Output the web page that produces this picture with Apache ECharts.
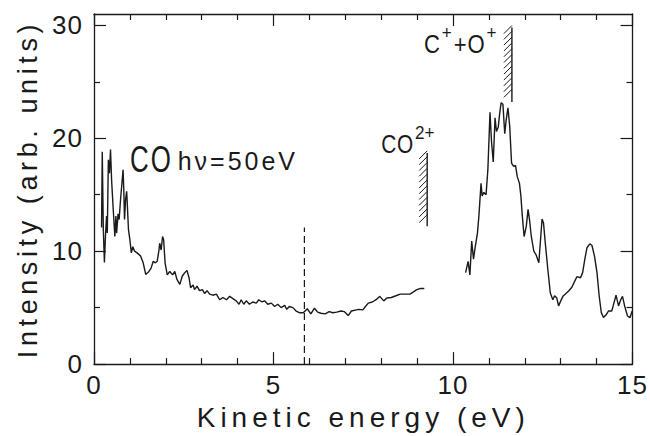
<!DOCTYPE html>
<html><head><meta charset="utf-8">
<script src="https://cdn.jsdelivr.net/npm/echarts@6/dist/echarts.min.js"></script>
<style>
html,body{margin:0;padding:0;background:#fff}
#c{width:650px;height:436px}
/* the plotter-style lettering of the original is widely spaced */
#c text[style*="28px"]{letter-spacing:5px}
#c text[style*="27px"]{letter-spacing:4.6px}
#c text[style*="25px"]{letter-spacing:3px}
#c text[style*="37px"]{letter-spacing:3px}
#c text[style*="26px"]{letter-spacing:1px}
</style>
</head><body><div id="c"></div><script>
// ---- data ----
const lowEnergy = [0.21,0.23,0.26,0.29,0.32,0.35,0.37,0.40,0.43,0.46,0.49,0.53,0.56,0.58,0.61,0.63,0.67,0.70,0.74,0.78,0.81,0.83,0.85,0.88,0.91,0.93,0.96,1.00,1.04,1.08,1.13,1.20,1.30,1.37,1.44,1.53,1.59,1.65,1.71,1.76,1.81,1.83,1.87,1.91,1.94,1.98,2.04,2.11,2.19,2.25,2.31,2.39,2.46,2.53,2.59,2.65,2.69,2.76,2.80,2.87,2.94,3.02,3.08,3.15,3.22,3.31,3.41,3.50,3.59,3.69,3.78,3.87,3.96,4.04,4.10,4.17,4.24,4.33,4.42,4.52,4.59,4.68,4.75,4.84,4.94,5.03,5.12,5.21,5.31,5.37,5.44,5.54,5.63,5.72,5.83,5.94,6.04,6.14,6.23,6.32,6.44,6.55,6.65,6.76,6.88,6.97,7.08,7.17,7.31,7.38,7.49,7.56,7.64,7.75,7.86,7.96,8.07,8.16,8.28,8.41,8.53,8.66,8.80,8.90,8.99,9.10,9.20];
const lowIntensity = [12.1,18.8,11.9,9.0,11.4,13.1,11.6,18.1,16.9,19.0,16.3,14.0,12.4,11.3,13.1,11.6,13.3,12.8,14.6,16.1,17.2,15.4,12.8,14.6,15.3,14.0,11.9,11.0,9.85,10.4,10.0,9.85,9.56,8.97,7.94,8.2,8.5,9.1,8.97,9.1,10.1,10.7,10.1,11.3,11.0,8.97,7.9,8.2,7.9,8.2,7.5,7.06,7.8,8.1,8.3,7.6,6.76,7.0,6.6,6.9,6.5,6.6,6.26,6.5,6.2,6.1,6.2,5.7,5.9,5.7,6.0,5.8,5.6,5.3,5.7,5.3,5.6,5.3,5.5,5.4,5.7,5.5,5.6,5.3,5.4,5.1,5.3,5.0,5.2,4.85,5.1,5.0,4.7,4.55,4.55,4.9,4.45,4.95,4.6,4.5,4.45,4.65,4.55,4.6,4.7,4.65,4.3,4.7,4.8,4.85,4.8,5.1,5.4,5.5,5.7,6.0,5.6,5.85,5.9,6.05,6.2,6.2,6.2,6.4,6.6,6.7,6.7];
const highEnergy = [10.35,10.42,10.47,10.52,10.57,10.61,10.68,10.72,10.78,10.81,10.86,10.92,10.97,11.03,11.07,11.12,11.17,11.21,11.26,11.30,11.34,11.39,11.44,11.48,11.53,11.58,11.63,11.69,11.74,11.79,11.85,11.89,11.93,11.98,12.04,12.09,12.13,12.18,12.25,12.31,12.39,12.43,12.48,12.52,12.57,12.64,12.71,12.78,12.83,12.89,12.94,13.00,13.06,13.13,13.22,13.31,13.39,13.45,13.55,13.61,13.67,13.73,13.81,13.87,13.94,14.01,14.07,14.13,14.19,14.27,14.33,14.42,14.46,14.54,14.61,14.67,14.72,14.78,14.86,14.93,14.99];
const highIntensity = [8.1,9.1,7.9,10.9,9.3,10.2,11.6,13.1,16.0,14.9,15.2,15.0,17.2,22.3,19.8,17.9,21.8,20.6,21.0,22.2,23.15,23.0,20.4,21.6,22.7,21.0,17.8,17.5,17.6,16.6,16.0,14.9,13.1,11.3,12.2,13.7,12.8,11.3,10.0,9.7,8.97,10.7,12.85,12.5,10.7,8.4,6.3,5.7,6.05,5.85,5.15,5.6,6.0,6.2,6.47,6.8,7.35,7.74,7.65,8.1,9.27,10.3,10.65,10.5,9.56,8.1,6.05,4.56,4.12,4.4,4.7,4.7,5.15,6.1,5.15,5.7,6.0,5.15,4.26,4.12,4.7];
const yMajorTicks = [0, 10, 20, 30];
const yMinorTicks = [5, 15, 25];
const thresholdEnergy = [9.28, 11.64];
const thresholdTop = [18.7, 29.8];
const thresholdBottom = [12.2, 23.2];
const dashedEnergy = 5.86;
const dashedTop = 12.1;
// annotations: text parts (even = normal, odd = superscript) and anchor [energy, intensity]
const annoTexts = [['CO'], ['hν=50eV'], ['CO', '2+'], ['C', '+', '+O', '+']];
const annoEnergy = [1.0, 2.33, 8.0, 9.19];
const annoIntensity = [18.1, 18.0, 19.5, 28.4];

const pairs = (xs, ys) => xs.map((x, i) => [x, ys[i]]);
const INK = '#1a1a1a';
const FONT = "'Liberation Sans',Arial,sans-serif";
// per annotation: main size, superscript size, horizontal squeeze, css letter spacing of main size
const annoStyle = [
  {size: 37, sup: 19, sx: 0.70, ls: 3},
  {size: 25, sup: 19, sx: 1.0, ls: 3},
  {size: 26, sup: 19, sx: 0.80, ls: 1},
  {size: 26, sup: 19, sx: 0.85, ls: 1}
];
const measureCtx = document.createElement('canvas').getContext('2d');
function textWidth(t, size, ls) {
  measureCtx.font = size + 'px ' + FONT;
  return measureCtx.measureText(t).width + ls * t.length;
}

const chart = echarts.init(document.getElementById('c'), null, {renderer: 'svg'});

function axisX(pos, labels) {
  return {
    type: 'value', min: 0, max: 15, interval: 5, position: pos,
    axisLine: {show: true, onZero: false, lineStyle: {color: INK, width: 1.3}},
    axisTick: {show: true, inside: true, length: 12, lineStyle: {color: INK, width: 1.2}},
    minorTick: {show: true, splitNumber: 5, length: 6, lineStyle: {color: INK, width: 1.2}},
    splitLine: {show: false}, minorSplitLine: {show: false},
    axisLabel: {show: labels, fontSize: 26, color: INK, fontFamily: FONT, margin: 8},
    name: labels ? 'Kinetic energy (eV)' : '',
    nameLocation: 'middle', nameGap: 38,
    nameTextStyle: {fontSize: 28, color: INK, fontFamily: FONT}
  };
}
function axisY(pos, major, labels) {
  return {
    type: 'value', min: 0, max: 31, position: pos,
    axisLine: {show: major, onZero: false, lineStyle: {color: INK, width: 1.3}},
    axisTick: {show: true, inside: true, length: major ? 12 : 6, customValues: major ? yMajorTicks : yMinorTicks, lineStyle: {color: INK, width: 1.2}},
    splitLine: {show: false},
    axisLabel: {show: labels, customValues: yMajorTicks, fontSize: 26, color: INK, fontFamily: FONT, margin: 11},
    name: labels ? 'Intensity (arb. units)' : '',
    nameLocation: 'middle', nameGap: 53, nameRotate: 90,
    nameTextStyle: {fontSize: 27, color: INK, fontFamily: FONT}
  };
}

function textItem(params, api) {
  const idx = params.dataIndex;
  const st = annoStyle[idx];
  const parts = annoTexts[idx];
  const p = api.coord([api.value(0), api.value(1)]);
  const children = [];
  let x = p[0];
  parts.forEach((t, i) => {
    const sup = i % 2 === 1;
    const size = sup ? st.sup : st.size;
    const ls = sup ? 0 : st.ls;
    const sx = sup ? 0.9 : st.sx;
    children.push({type: 'text', x: x, y: sup ? p[1] - 11 : p[1], scaleX: sx,
      style: {text: t, fontSize: size, fontFamily: FONT, fill: INK, align: 'left', verticalAlign: 'middle'}});
    x += textWidth(t, size, ls) * sx + (sup ? 2 : 1);
  });
  return {type: 'group', children};
}

function hatchItem(params, api) {
  const top = api.coord([api.value(0), api.value(1)]);
  const bot = api.coord([api.value(0), api.value(2)]);
  const children = [{type: 'line', shape: {x1: top[0], y1: top[1], x2: bot[0], y2: bot[1]}, style: {stroke: INK, lineWidth: 1.4}}];
  for (let y = top[1] + 6; y <= bot[1] + 0.5; y += 5.8) {
    children.push({type: 'line', shape: {x1: top[0] - 8, y1: y, x2: top[0], y2: y - 8}, style: {stroke: INK, lineWidth: 1.0}});
  }
  return {type: 'group', children};
}

chart.setOption({
  animation: false,
  backgroundColor: '#fff',
  grid: {left: 94, right: 15, top: 14, bottom: 71, containLabel: false},
  xAxis: [axisX('bottom', true), axisX('top', false)],
  yAxis: [axisY('left', true, true), axisY('left', false, false), axisY('right', true, false), axisY('right', false, false)],
  series: [
    {type: 'line', data: pairs(lowEnergy, lowIntensity), showSymbol: false, lineStyle: {color: INK, width: 1.4}, silent: true},
    {type: 'line', data: pairs(highEnergy, highIntensity), showSymbol: false, lineStyle: {color: INK, width: 1.4}, silent: true},
    {type: 'line', data: [[dashedEnergy, 0], [dashedEnergy, dashedTop]], showSymbol: false, lineStyle: {color: INK, width: 1.2, type: [7, 4]}, silent: true},
    {type: 'custom', renderItem: hatchItem, data: thresholdEnergy.map((x, i) => [x, thresholdTop[i], thresholdBottom[i]]), silent: true},
    {type: 'custom', renderItem: textItem, data: annoEnergy.map((x, i) => [x, annoIntensity[i]]), silent: true}
  ]
});
</script></body></html>
